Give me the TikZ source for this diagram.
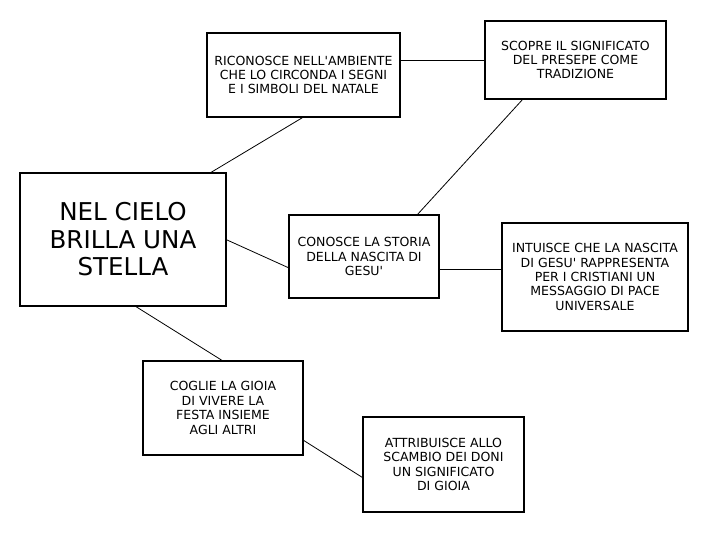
\documentclass[tikz,border=0pt]{standalone}
\usepackage{fontspec}
\setmainfont{DejaVu Sans}
\tikzset{
  bx/.style n args={2}{draw, line width=1.5pt, minimum width=#1, minimum height=#2,
    inner sep=0pt, outer sep=0pt, align=center, font=\fontsize{9.4}{10.8}\selectfont},
  big/.style={font=\fontsize{18.4}{20.6}\selectfont},
  link/.style={line width=0.6pt}
}
\begin{document}
\begin{tikzpicture}[x=0.75pt,y=-0.75pt]
\useasboundingbox (0,0) rectangle (720,540);
\node[bx={144.75pt}{63pt}] (ric) at (303.5,75) {RICONOSCE NELL\textquotesingle AMBIENTE\\CHE LO CIRCONDA I SEGNI\\E I SIMBOLI DEL NATALE};
\node[bx={135.75pt}{58.5pt}] (scop) at (575.5,60) {SCOPRE IL SIGNIFICATO\\DEL PRESEPE COME\\TRADIZIONE};
\node[bx={154.5pt}{99.75pt}, big] (nel) at (123,239.5) {NEL CIELO\\BRILLA UNA\\STELLA};
\node[bx={112.5pt}{62.25pt}] (con) at (364,256.5) {CONOSCE LA STORIA\\DELLA NASCITA DI\\GESU\textquotesingle};
\node[bx={139.5pt}{81pt}] (int) at (595,277) {INTUISCE CHE LA NASCITA\\DI GESU\textquotesingle{} RAPPRESENTA\\PER I CRISTIANI UN\\MESSAGGIO DI PACE\\UNIVERSALE};
\node[bx={120pt}{70.5pt}] (cog) at (223,408) {COGLIE LA GIOIA\\DI VIVERE LA\\FESTA INSIEME\\AGLI ALTRI};
\node[bx={120.75pt}{71.25pt}] (att) at (443.5,464.5) {ATTRIBUISCE ALLO\\SCAMBIO DEI DONI\\UN SIGNIFICATO\\DI GIOIA};
\draw[link] (ric.south) -- ([xshift=-12pt]nel.north east);
\draw[link] ([yshift=11.25pt]ric.east) -- (scop.west);
\draw[link] ([xshift=28.5pt]scop.south west) -- ([xshift=-16.5pt]con.north east);
\draw[link] (nel.east) -- ([yshift=-8.6pt]con.west);
\draw[link] ([yshift=-10pt]con.east) -- ([yshift=-10pt]con.east -| int.west);
\draw[link] ([xshift=9pt]nel.south) -- (cog.north);
\draw[link] ([yshift=-24pt]cog.east) -- ([yshift=-10pt]att.west);
\end{tikzpicture}
\end{document}
